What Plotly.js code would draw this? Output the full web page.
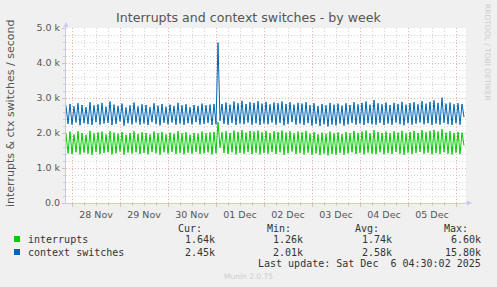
<!DOCTYPE html>
<html>
<head>
<meta charset="utf-8">
<script src="https://cdn.plot.ly/plotly-3.0.1.min.js"></script>
<style>
  html, body { margin: 0; padding: 0; background: #F0F0F0; }
  #chart { width: 497px; height: 287px; }
</style>
</head>
<body>
<div id="chart"></div>
<script>
// ---- data (hourly samples, starting 2025-11-27 21:00) ----
const startTime = '2025-11-27T21:00:00';
const stepHours = 1;

const interrupts = [
  1990,1420,2040,1400,1960,1450,2050,1390,2000,1440,1950,1410,2060,1380,1990,1460,2020,1400,2040,1430,
  1960,1450,2050,1390,2010,1420,1980,1470,2030,1380,1950,1440,2000,1410,2050,1450,1970,1400,2020,1430,
  2000,1390,1960,1460,2040,1420,1990,1380,2030,1450,1960,1410,2010,1460,1980,1400,2050,1430,1990,1390,
  2020,1440,1950,1410,2000,1460,1980,1400,2040,1420,1990,1450,2010,1390,2030,1420,2310,1580,2020,1430,
  2050,1400,2000,1450,2070,1390,2030,1430,2080,1410,2010,1460,2060,1400,2040,1440,2070,1390,2020,1430,
  2060,1410,2000,1460,2050,1400,2030,1450,2070,1380,2010,1420,2050,1470,1990,1400,2040,1430,2020,1390,
  2060,1440,1980,1380,2030,1420,1960,1370,2010,1410,1980,1360,2040,1400,1990,1380,2020,1430,1970,1380,
  2030,1420,1990,1450,2060,1400,2000,1430,2040,1390,2070,1440,1990,1410,2080,1400,2030,1450,2000,1390,
  2040,1430,1990,1400,2050,1460,2010,1410,2060,1380,1990,1440,2030,1400,2060,1430,2000,1460,2080,1410,
  2020,1440,2060,1390,2090,1430,2040,1400,2110,1450,2010,1410,2050,1390,2000,1440,2030,1400,2010,1640
];

const contextSwitches = [
  2780,2260,2830,2240,2760,2300,2850,2220,2800,2280,2740,2250,2880,2230,2790,2310,2820,2240,2860,2270,
  2750,2290,2900,2230,2810,2260,2770,2330,2840,2210,2730,2280,2790,2250,2870,2300,2760,2240,2820,2270,
  2800,2230,2740,2310,2850,2260,2780,2220,2830,2290,2750,2250,2810,2300,2770,2240,2860,2270,2790,2230,
  2820,2280,2740,2250,2800,2310,2770,2240,2840,2260,2790,2290,2810,2230,2830,2250,4580,2350,2830,2260,
  2870,2240,2810,2290,2900,2230,2850,2270,2920,2250,2830,2300,2880,2240,2860,2280,2910,2230,2840,2270,
  2890,2250,2820,2300,2870,2240,2850,2290,2900,2220,2830,2260,2880,2310,2810,2240,2860,2270,2840,2230,
  2880,2280,2800,2210,2850,2260,2770,2200,2830,2250,2790,2190,2860,2240,2810,2220,2840,2270,2780,2210,
  2850,2250,2800,2290,2880,2240,2820,2270,2860,2230,2900,2280,2810,2250,2940,2240,2850,2290,2820,2230,
  2870,2270,2800,2240,2860,2300,2830,2250,2890,2220,2810,2280,2850,2240,2880,2270,2820,2300,2910,2250,
  2840,2280,2890,2230,2930,2270,2860,2240,3010,2290,2840,2250,2870,2230,2820,2280,2850,2240,2830,2450
];

const yTickVals = [0, 1000, 2000, 3000, 4000, 5000];
const yTickText = ['0.0', '1.0 k', '2.0 k', '3.0 k', '4.0 k', '5.0 k'];

const legendNames = ['interrupts', 'context switches'];
const legendColors = ['#00CC00', '#0066B3'];
const statHeaders = ['Cur:', 'Min:', 'Avg:', 'Max:'];
const statsInterrupts = ['1.64k', '1.26k', '1.74k', '6.60k'];
const statsContext = ['2.45k', '2.01k', '2.58k', '15.80k'];
const lastUpdate = 'Last update: Sat Dec \u00A06 04:30:02 2025';

// ---- build time index ----
function timesFor(n) {
  const t0 = new Date(startTime + 'Z').getTime();
  const out = [];
  for (let i = 0; i < n; i++) {
    const d = new Date(t0 + i * stepHours * 3600000);
    out.push(d.toISOString().slice(0, 19).replace('T', ' '));
  }
  return out;
}
const times = timesFor(interrupts.length);

// ---- geometry helpers (pixel -> paper) ----
const W = 497, H = 287;
const L = 66, R = 466, T = 28, B = 203;
const px = x => (x - L) / (R - L);
const py = y => (B - y) / (B - T);

const mono = { family: 'DejaVu Sans Mono', size: 10, color: '#333333' };
const majorGrid = '#EBB5B5';
const minorGrid = '#D6D6D6';
const gridDash = '1px,2px';

const annotations = [];
// y axis title
annotations.push({ xref: 'paper', yref: 'paper', x: px(10), y: py(114), text: 'interrupts & ctx switches / second',
  textangle: -90, showarrow: false, font: { family: 'DejaVu Sans', size: 11, color: '#555555' }, xanchor: 'center', yanchor: 'middle' });
// rrdtool credit
annotations.push({ xref: 'paper', yref: 'paper', x: px(488), y: py(52), text: 'RRDTOOL / TOBI OETIKER',
  textangle: 90, showarrow: false, font: { family: 'DejaVu Sans', size: 7.5, color: '#CCCCCC' }, xanchor: 'center', yanchor: 'middle' });
// headers
const colRight = [217, 305, 394, 483];
const headRight = [204, 293, 381, 470];
statHeaders.forEach((h, i) => annotations.push({ xref: 'paper', yref: 'paper', x: px(headRight[i]), y: py(228), text: h,
  showarrow: false, font: mono, xanchor: 'right', yanchor: 'middle' }));
const rowsY = [239, 252];
[statsInterrupts, statsContext].forEach((row, r) => {
  annotations.push({ xref: 'paper', yref: 'paper', x: px(26), y: py(rowsY[r]), text: legendNames[r],
    showarrow: false, font: mono, xanchor: 'left', yanchor: 'middle' });
  row.forEach((v, i) => annotations.push({ xref: 'paper', yref: 'paper', x: px(colRight[i]), y: py(rowsY[r]), text: v,
    showarrow: false, font: mono, xanchor: 'right', yanchor: 'middle' }));
});
annotations.push({ xref: 'paper', yref: 'paper', x: px(483), y: py(263), text: lastUpdate,
  showarrow: false, font: mono, xanchor: 'right', yanchor: 'middle' });
annotations.push({ xref: 'paper', yref: 'paper', x: px(248), y: py(276), text: 'Munin 2.0.75',
  showarrow: false, font: { family: 'DejaVu Sans', size: 7.5, color: '#CCCCCC' }, xanchor: 'center', yanchor: 'middle' });
// axis arrows
annotations.push({ xref: 'paper', yref: 'paper', x: px(472), y: 0, ax: -8, ay: 0, text: '', showarrow: true,
  arrowhead: 2, arrowsize: 1, arrowwidth: 1, arrowcolor: '#C8C8F0' });
annotations.push({ xref: 'paper', yref: 'paper', x: 0, y: py(22), ax: 0, ay: 8, text: '', showarrow: true,
  arrowhead: 2, arrowsize: 1, arrowwidth: 1, arrowcolor: '#C8C8F0' });

const shapes = legendColors.map((c, r) => ({
  type: 'rect', xref: 'paper', yref: 'paper', x0: px(14), x1: px(20), y0: py(rowsY[r] + 3), y1: py(rowsY[r] - 3),
  fillcolor: c, line: { width: 0 }
}));

const traces = [
  { x: times, y: interrupts, type: 'scatter', mode: 'lines', name: legendNames[0],
    line: { color: legendColors[0], width: 1 }, hoverinfo: 'skip' },
  { x: times, y: contextSwitches, type: 'scatter', mode: 'lines', name: legendNames[1],
    line: { color: legendColors[1], width: 1 }, hoverinfo: 'skip' }
];

const layout = {
  width: W, height: H,
  margin: { l: L, r: W - R, t: T, b: H - B, pad: 0 },
  paper_bgcolor: '#F0F0F0', plot_bgcolor: '#FFFFFF',
  showlegend: false,
  title: { text: 'Interrupts and context switches - by week', x: 0.5, xanchor: 'center', y: 1 - 18 / H, yanchor: 'middle',
    font: { family: 'DejaVu Sans', size: 12.6, color: '#555555' } },
  xaxis: {
    type: 'date',
    range: ['2025-11-27 21:00', '2025-12-06 05:00'],
    tick0: '2025-11-28', dtick: 86400000,
    ticklabelmode: 'period', tickformat: '%d %b',
    showgrid: true, gridcolor: majorGrid, griddash: gridDash, gridwidth: 1,
    ticks: 'outside', ticklen: 3, tickcolor: majorGrid,
    minor: { dtick: 21600000, tick0: '2025-11-28', showgrid: true, gridcolor: minorGrid, griddash: gridDash, ticks: 'outside', ticklen: 2, tickcolor: '#CCCCCC' },
    showline: true, linecolor: '#C8C8F0', linewidth: 1,
    zeroline: false,
    tickfont: { family: 'DejaVu Sans', size: 9.5, color: '#555555' },
    fixedrange: true
  },
  yaxis: {
    range: [0, 5000],
    tickvals: yTickVals, ticktext: yTickText,
    showgrid: true, gridcolor: majorGrid, griddash: gridDash, gridwidth: 1,
    ticks: 'outside', ticklen: 3, tickcolor: majorGrid,
    minor: { dtick: 200, showgrid: true, gridcolor: minorGrid, griddash: gridDash, ticks: 'outside', ticklen: 2, tickcolor: '#CCCCCC' },
    showline: true, linecolor: '#C8C8F0', linewidth: 1,
    zeroline: false,
    tickfont: { family: 'DejaVu Sans', size: 9.5, color: '#555555' },
    fixedrange: true
  },
  annotations: annotations,
  shapes: shapes
};

Plotly.newPlot('chart', traces, layout, { displayModeBar: false, staticPlot: true });
</script>
</body>
</html>
